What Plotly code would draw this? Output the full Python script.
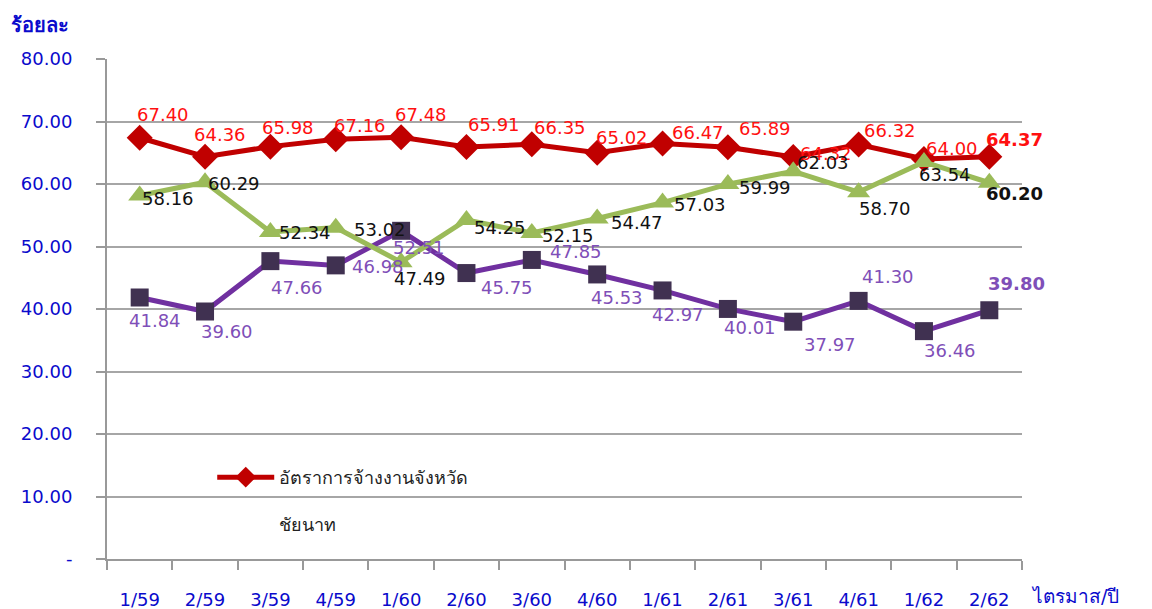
import plotly.graph_objects as go

quarters = ["1/59", "2/59", "3/59", "4/59", "1/60", "2/60", "3/60", "4/60",
            "1/61", "2/61", "3/61", "4/61", "1/62", "2/62"]
employment_rate = [67.40, 64.36, 65.98, 67.16, 67.48, 65.91, 66.35, 65.02,
                   66.47, 65.89, 64.32, 66.32, 64.00, 64.37]
series_green = [58.16, 60.29, 52.34, 53.02, 47.49, 54.25, 52.15, 54.47,
                57.03, 59.99, 62.03, 58.70, 63.54, 60.20]
series_purple = [41.84, 39.60, 47.66, 46.98, 52.51, 45.75, 47.85, 45.53,
                 42.97, 40.01, 37.97, 41.30, 36.46, 39.80]
y_tickvals = [0, 10, 20, 30, 40, 50, 60, 70, 80]
y_ticktext = ["-", "10.00", "20.00", "30.00", "40.00", "50.00", "60.00", "70.00", "80.00"]

# label offsets in pixels (dx right, dy down) relative to each marker
red_off = [(23, -23), (15, -22), (18, -19), (24, -14), (20, -23), (28, -23), (28, -17),
           (25, -15), (35, -11), (37, -19), (33, -4), (31, -14), (28, -11), (25, -17)]
green_off = [(28, 3), (29, 1), (35, 1), (44, 2), (19, 16), (34, 8), (36, 2),
             (40, 4), (37, 2), (37, 3), (30, -9), (26, 16), (21, 13), (25, 11)]
purple_off = [(15, 23), (22, 20), (27, 26), (42, 1), (18, 17), (41, 14), (44, -8),
              (20, 23), (15, 24), (22, 19), (37, 23), (29, -24), (26, 19), (27, -27)]

FONT = "DejaVu Sans, Noto Sans, sans-serif"
BLUE = "#0A0ACC"

fig = go.Figure()
fig.add_trace(go.Scatter(
    x=quarters, y=employment_rate, name="อัตราการจ้างงานจังหวัด<br><br>ชัยนาท",
    mode="lines+markers",
    line=dict(color="#C00000", width=5),
    marker=dict(symbol="diamond", size=20, color="#C00000"),
    showlegend=True,
))
fig.add_trace(go.Scatter(
    x=quarters, y=series_purple, name="ชุดข้อมูล 3",
    mode="lines+markers",
    line=dict(color="#7030A0", width=5),
    marker=dict(symbol="square", size=18, color="#403151"),
    showlegend=False,
))
fig.add_trace(go.Scatter(
    x=quarters, y=series_green, name="ชุดข้อมูล 2",
    mode="lines+markers",
    line=dict(color="#9BBB59", width=5),
    marker=dict(symbol="triangle-up", size=20, color="#9BBB59"),
    showlegend=False,
))

annotations = []
for vals, offs, color in [(employment_rate, red_off, "#FF1010"),
                          (series_purple, purple_off, "#7F4FB8"),
                          (series_green, green_off, "#111111")]:
    n = len(vals)
    for i, (q, v) in enumerate(zip(quarters, vals)):
        txt = f"{v:.2f}"
        if i == n - 1:
            txt = f"<b>{txt}</b>"
        dx, dy = offs[i]
        annotations.append(dict(
            x=q, y=v, xref="x", yref="y", text=txt, showarrow=False,
            xshift=dx, yshift=-dy, xanchor="center", yanchor="middle",
            font=dict(color=color, size=18, family=FONT),
        ))

annotations += [
    dict(text="<b>ร้อยละ</b>", xref="paper", yref="paper", x=-0.107, y=1.068,
         xanchor="left", yanchor="middle", showarrow=False,
         font=dict(color=BLUE, size=20, family=FONT)),
    dict(text="ไตรมาส/ปี", xref="paper", yref="paper", x=1.008, y=-0.074,
         xanchor="left", yanchor="middle", showarrow=False,
         font=dict(color=BLUE, size=19, family=FONT)),
]

fig.update_layout(
    width=1152, height=609,
    margin=dict(l=107, r=130, t=59, b=50),
    paper_bgcolor="white", plot_bgcolor="white",
    font=dict(family=FONT, size=18),
    legend=dict(x=0.115, y=0.2, xanchor="left", yanchor="top", valign="top",
                bgcolor="rgba(0,0,0,0)", font=dict(size=18, color="#222222", family=FONT),
                itemwidth=57),
    annotations=annotations,
)
fig.update_xaxes(
    type="category", range=[-0.5, 13.5], automargin=False,
    showline=True, linecolor="#999999", linewidth=2,
    ticks="outside", tickson="boundaries", ticklen=9, tickwidth=2, tickcolor="#999999",
    showgrid=False, ticklabelstandoff=23,
    tickfont=dict(color=BLUE, size=18, family=FONT),
)
fig.update_yaxes(
    range=[0, 80], tickvals=y_tickvals, ticktext=y_ticktext, automargin=False,
    showline=True, linecolor="#999999", linewidth=2,
    ticks="outside", ticklen=9, tickwidth=2, tickcolor="#999999",
    showgrid=True, gridcolor="#A6A6A6", gridwidth=2, zeroline=False,
    ticklabelstandoff=20,
    tickfont=dict(color=BLUE, size=18, family=FONT),
)

fig.write_html("out.html", config={"displayModeBar": False},
               post_script="document.body.style.margin='0px';document.body.style.overflow='hidden';")
